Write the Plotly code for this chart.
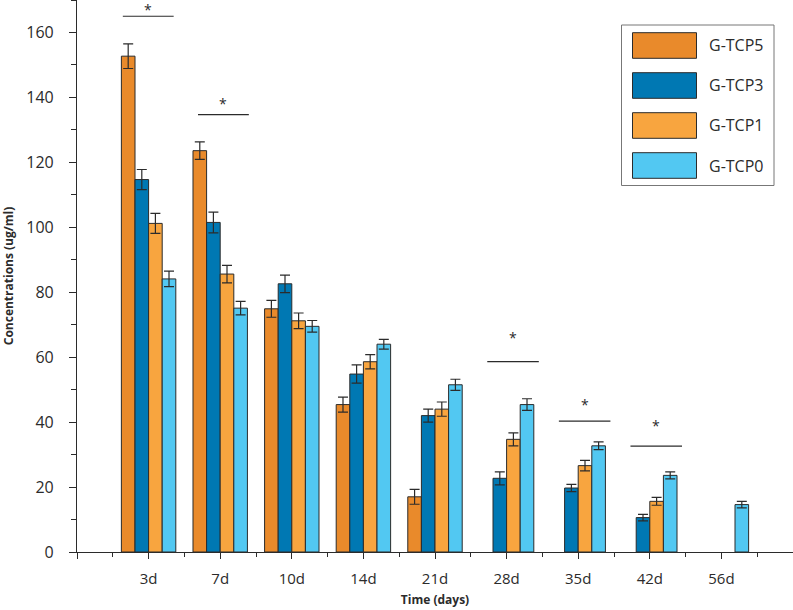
import plotly.graph_objects as go

days = ["3d", "7d", "10d", "14d", "21d", "28d", "35d", "42d", "56d"]
series_names = ["G-TCP5", "G-TCP3", "G-TCP1", "G-TCP0"]
g_tcp5 = [152.7, 123.6, 74.9, 45.4, 17.0, None, None, None, None]
g_tcp3 = [114.7, 101.5, 82.6, 54.8, 42.0, 22.7, 19.7, 10.6, None]
g_tcp1 = [101.2, 85.6, 71.2, 58.6, 44.0, 34.7, 26.6, 15.6, None]
g_tcp0 = [84.1, 75.1, 69.5, 64.0, 51.5, 45.4, 32.7, 23.6, 14.6]
err5 = [3.8, 2.7, 2.6, 2.3, 2.3, None, None, None, None]
err3 = [3.1, 3.2, 2.7, 2.8, 2.0, 2.0, 1.1, 1.0, None]
err1 = [3.1, 2.7, 2.4, 2.2, 2.2, 2.0, 1.6, 1.2, None]
err0 = [2.4, 2.1, 1.8, 1.5, 1.7, 1.8, 1.2, 1.1, 1.0]

sig_days = ["3d", "7d", "28d", "35d", "42d"]
sig_line_y = [165.0, 134.7, 58.6, 40.3, 32.6]
sig_star_y = [167.0, 138.0, 66.0, 45.4, 38.9]

# styles
colors = ["#E98A2B", "#0078B3", "#F8A53F", "#52C8F2"]
sig_extent = [(-0.36, 0.35), (-0.31, 0.40), (-0.27, 0.45), (-0.27, 0.45), (-0.27, 0.45)]
FONT = "Open Sans"
INK = "#2b2b2b"

values = [g_tcp5, g_tcp3, g_tcp1, g_tcp0]
errors = [err5, err3, err1, err0]
xpos = list(range(len(days)))

fig = go.Figure()
for name, vals, errs, col in zip(series_names, values, errors, colors):
    fig.add_trace(go.Bar(
        x=xpos, y=vals, name=name,
        marker=dict(color=col, line=dict(color=INK, width=1)),
        error_y=dict(type="data", array=errs, visible=True, color=INK,
                     thickness=1.2, width=5),
        showlegend=False,
    ))

# significance bars
for d, ly, sy, (lo, hi) in zip(sig_days, sig_line_y, sig_star_y, sig_extent):
    c = days.index(d)
    fig.add_shape(type="line", x0=c + lo, x1=c + hi, y0=ly, y1=ly,
                  xref="x", yref="y", line=dict(color=INK, width=1.2))
    fig.add_annotation(x=c + (lo + hi) / 2, y=sy, text="*", showarrow=False,
                       xref="x", yref="y", yanchor="middle",
                       font=dict(family=FONT, size=14, color=INK))

# manual legend (pixel helpers)
L, R, T, B = 77, 793, 0, 552
def px(x):
    return (x - L) / (R - L)
def py(y):
    return (B - y) / (B - T)

fig.add_shape(type="rect", xref="paper", yref="paper",
              x0=px(621.5), x1=px(774), y0=py(185.5), y1=py(25),
              line=dict(color="#777777", width=1), fillcolor="white")
for i, (name, col) in enumerate(zip(series_names, colors)):
    top = 32.7 + 40 * i
    fig.add_shape(type="rect", xref="paper", yref="paper",
                  x0=px(632.5), x1=px(696.5), y0=py(top + 25.6), y1=py(top),
                  line=dict(color=INK, width=1), fillcolor=col)
    fig.add_annotation(xref="paper", yref="paper", x=px(707), y=py(top + 12.8),
                       text=name, showarrow=False, xanchor="left", yanchor="middle",
                       font=dict(family=FONT, size=16, color=INK))

tickvals = [-1] + xpos + [9]
ticktext = [""] + days + [""]
fig.update_layout(
    width=793, height=610,
    margin=dict(l=L, r=793 - R, t=T, b=610 - B, autoexpand=False),
    paper_bgcolor="white", plot_bgcolor="white",
    barmode="group", bargap=0.24, bargroupgap=0,
    font=dict(family=FONT, color=INK),
    xaxis=dict(
        range=[-1, 9], tickmode="array", tickvals=tickvals, ticktext=ticktext,
        automargin=False,
        showline=True, linecolor=INK, linewidth=1.2,
        ticks="outside", ticklen=6, tickwidth=1.2, tickcolor=INK,
        minor=dict(tickmode="array", tickvals=[v + 0.5 for v in [-1] + xpos],
                   ticks="outside", ticklen=4, tickwidth=1.2, tickcolor=INK),
        showgrid=False, zeroline=False,
        tickfont=dict(family=FONT, size=15, color=INK),
        ticklabelstandoff=7,
        title=dict(text="<b>Time (days)</b>", standoff=8,
                   font=dict(family=FONT, size=12, color=INK)),
    ),
    yaxis=dict(
        range=[0, 170], tickmode="linear", tick0=0, dtick=20,
        automargin=False,
        showline=True, linecolor=INK, linewidth=1.2,
        ticks="outside", ticklen=7, tickwidth=1.2, tickcolor=INK,
        minor=dict(dtick=10, ticks="outside", ticklen=5, tickwidth=1.2, tickcolor=INK),
        showgrid=False, zeroline=False,
        tickfont=dict(family=FONT, size=16, color=INK),
        ticklabelstandoff=12,
        title=dict(text="<b>Concentrations (ug/ml)</b>", standoff=12,
                   font=dict(family=FONT, size=12, color=INK)),
    ),
)

fig.write_html("out.html", config={"displayModeBar": False},
               post_script="document.body.style.margin='0';document.body.style.padding='0';")
